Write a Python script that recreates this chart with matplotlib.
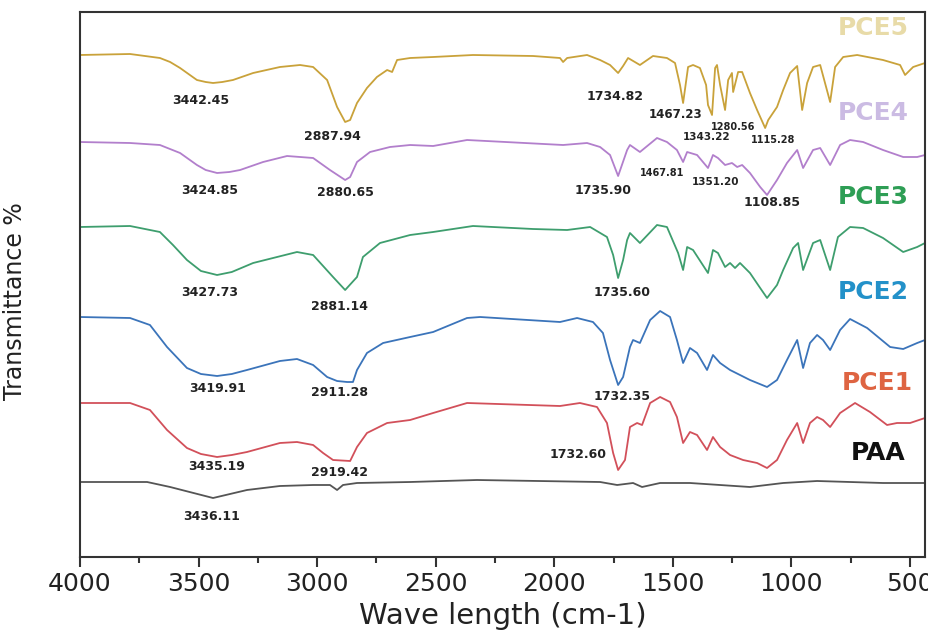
import numpy as np
import matplotlib.pyplot as plt
from matplotlib.ticker import MultipleLocator

# values (wavenumber cm-1, transmittance in arbitrary stacked units)
pce5_wn = [4000, 3789, 3663, 3620, 3578, 3507, 3470, 3439, 3400, 3355, 3270, 3157, 3072, 3017, 2958,
           2916, 2882, 2861, 2832, 2790, 2748, 2705, 2684, 2663, 2608, 2511, 2343, 2090, 1976, 1963,
           1946, 1862, 1807, 1765, 1731, 1710, 1689, 1639, 1584, 1525, 1491, 1470, 1457, 1436, 1415,
           1386, 1360, 1352, 1335, 1322, 1314, 1301, 1280, 1267, 1251, 1246, 1225, 1208, 1175, 1145,
           1111, 1098, 1061, 1035, 1006, 976, 955, 934, 909, 879, 837, 816, 782, 723, 614, 542, 521,
           487, 437]
pce5_t = [502, 503, 499, 495, 489, 477, 475, 474, 475, 477, 484, 490, 492, 490, 477,
          450, 435, 437, 454, 469, 480, 487, 485, 497, 499, 500, 502, 501, 499, 495,
          499, 502, 497, 492, 484, 491, 499, 492, 501, 499, 494, 472, 454, 490, 492,
          489, 472, 452, 442, 489, 492, 472, 447, 477, 484, 465, 485, 485, 464, 447,
          429, 437, 450, 467, 484, 491, 447, 474, 490, 492, 455, 490, 500, 502, 497, 492, 482,
          490, 494]

pce4_wn = [4000, 3789, 3663, 3578, 3507, 3470, 3422, 3370, 3325, 3228, 3127, 3017, 2946, 2882, 2861,
           2832, 2777, 2693, 2608, 2511, 2368, 1963, 1862, 1807, 1765, 1731, 1693, 1681, 1639, 1567,
           1525, 1483, 1457, 1440, 1398, 1352, 1331, 1310, 1280, 1251, 1229, 1208, 1175, 1132, 1103,
           1061, 1019, 976, 951, 909, 879, 837, 795, 753, 698, 614, 529, 470, 437]
pce4_t = [415, 414, 412, 404, 392, 387, 384, 385, 387, 395, 401, 399, 387, 377, 380,
          395, 405, 410, 412, 411, 417, 412, 414, 410, 402, 381, 407, 412, 405, 419,
          415, 407, 395, 405, 402, 389, 402, 399, 392, 394, 390, 392, 384, 370, 362,
          377, 394, 407, 389, 407, 409, 392, 412, 417, 415, 407, 400, 400, 402]

pce3_wn = [4000, 3789, 3663, 3608, 3549, 3490, 3422, 3360, 3270, 3085, 3017, 2933, 2882, 2832, 2807,
           2735, 2608, 2511, 2343, 2090, 1946, 1849, 1778, 1752, 1731, 1710, 1693, 1681, 1639, 1567,
           1525, 1478, 1457, 1440, 1415, 1352, 1331, 1310, 1280, 1259, 1238, 1217, 1175, 1132, 1103,
           1061, 1035, 993, 972, 951, 909, 879, 837, 804, 753, 698, 614, 529, 470, 437]
pce3_t = [330, 331, 325, 312, 297, 286, 282, 285, 294, 305, 302, 280, 267, 280, 300,
          314, 322, 325, 331, 328, 327, 330, 320, 302, 279, 297, 317, 324, 314, 332,
          330, 304, 287, 310, 307, 284, 307, 304, 290, 294, 289, 294, 284, 269, 259,
          272, 287, 309, 314, 287, 314, 317, 287, 320, 330, 329, 319, 305, 310, 314]

pce2_wn = [4000, 3789, 3705, 3633, 3549, 3490, 3422, 3360, 3296, 3157, 3085, 3017, 2958, 2916, 2874,
           2849, 2832, 2790, 2722, 2608, 2511, 2368, 2313, 1976, 1904, 1837, 1795, 1765, 1731, 1710,
           1681, 1668, 1639, 1596, 1554, 1512, 1483, 1457, 1428, 1398, 1356, 1331, 1301, 1259, 1217,
           1175, 1103, 1061, 1019, 976, 951, 922, 892, 867, 837, 795, 753, 681, 584, 529, 470, 437]
pce2_t = [240, 239, 232, 210, 189, 183, 181, 183, 187, 196, 198, 192, 180, 176, 175,
          175, 187, 204, 214, 220, 225, 239, 240, 235, 239, 235, 224, 197, 172, 180,
          210, 217, 214, 237, 246, 240, 217, 194, 209, 204, 187, 202, 194, 187, 182,
          177, 170, 177, 197, 217, 189, 214, 222, 217, 207, 227, 238, 229, 210, 208, 214, 217]

pce1_wn = [4000, 3789, 3705, 3633, 3549, 3490, 3422, 3360, 3296, 3157, 3085, 3017, 2975, 2933, 2861,
           2832, 2790, 2705, 2608, 2511, 2368, 1976, 1892, 1820, 1778, 1752, 1731, 1702, 1681, 1651,
           1630, 1596, 1554, 1512, 1483, 1457, 1428, 1398, 1356, 1331, 1301, 1259, 1204, 1145, 1103,
           1061, 1019, 976, 951, 922, 892, 867, 837, 795, 732, 669, 597, 555, 500, 437]
pce1_t = [154, 154, 147, 127, 109, 103, 100, 102, 105, 114, 115, 112, 104, 97, 96,
          110, 124, 134, 137, 144, 154, 151, 154, 150, 134, 104, 87, 97, 130, 134,
          132, 154, 160, 155, 140, 114, 125, 122, 107, 120, 110, 102, 97, 94, 89,
          97, 117, 134, 114, 134, 140, 137, 130, 144, 154, 145, 132, 134, 134, 139]

paa_wn = [4000, 3717, 3620, 3439, 3296, 3157, 3017, 2946, 2916, 2891, 2832, 2608, 2326, 1807, 1735,
          1668, 1630, 1554, 1428, 1175, 1035, 892, 614, 437]
paa_t = [75, 75, 70, 59, 67, 71, 72, 72, 67, 72, 74, 75, 77, 75, 72,
         74, 70, 74, 74, 70, 74, 76, 74, 74]

# peak labels: text, wavenumber, y, size
peak_text = ['3442.45', '2887.94', '3424.85', '2880.65', '3427.73', '2881.14', '3419.91', '2911.28',
             '3435.19', '2919.42', '3436.11', '1734.82', '1467.23', '1343.22', '1280.56', '1115.28',
             '1735.90', '1467.81', '1351.20', '1108.85', '1735.60', '1732.35', '1732.60']
peak_x = [3490, 2937, 3452, 2882, 3452, 2904, 3418, 2904, 3422, 2904, 3443, 1744, 1491, 1356, 1246,
          1078, 1795, 1546, 1322, 1082, 1714, 1714, 1900]
peak_y = [456, 421, 366, 365, 265, 251, 168, 164, 90, 85, 40, 461, 443, 420, 430, 417, 366, 384,
          375, 355, 265, 161, 103]
peak_size = [9, 9, 9, 9, 9, 9, 9, 9, 9, 9, 9, 9, 8.5, 7.5, 7, 7, 9, 7, 7.5, 9, 9, 9, 9]

names = ['PCE5', 'PCE4', 'PCE3', 'PCE2', 'PCE1', 'PAA']
name_x = [656, 656, 656, 656, 639, 635]
name_y = [529, 444, 360, 265, 174, 104]
name_colors = ['#E8DBA8', '#CBBBE3', '#2E9E55', '#2391C9', '#DE6442', '#111111']

series = [(pce5_wn, pce5_t, '#C9A23A'), (pce4_wn, pce4_t, '#B27FCC'), (pce3_wn, pce3_t, '#3E9E6E'),
          (pce2_wn, pce2_t, '#3B74BA'), (pce1_wn, pce1_t, '#D2505A'), (paa_wn, paa_t, '#555555')]

fig = plt.figure(figsize=(9.29, 6.4), dpi=100)
ax = fig.add_axes([80 / 929, 1 - 557 / 640, 845 / 929, 545 / 640])

for wn, t, c in series:
    ax.plot(wn, t, color=c, lw=1.3, solid_joinstyle='round')

for s, x, y, fs in zip(peak_text, peak_x, peak_y, peak_size):
    ax.text(x, y, s, fontsize=fs, fontweight='bold', color='#222222', ha='center', va='center')

for s, x, y, c in zip(names, name_x, name_y, name_colors):
    ax.text(x, y, s, fontsize=18, fontweight='bold', color=c, ha='center', va='center')

ax.set_xlim(4000, 437)
ax.set_ylim(0, 545)
ax.set_yticks([])
ax.xaxis.set_major_locator(MultipleLocator(500))
ax.xaxis.set_minor_locator(MultipleLocator(250))
ax.tick_params(axis='x', which='major', direction='out', length=7, width=1.5, labelsize=18, pad=4,
               colors='#333333', labelcolor='#222222')
ax.tick_params(axis='x', which='minor', direction='out', length=4, width=1.5, colors='#333333')
for sp in ax.spines.values():
    sp.set_linewidth(1.5)
    sp.set_color('#333333')

ax.set_xlabel('Wave length (cm-1)', fontsize=21, color='#222222', labelpad=4)
ax.set_ylabel('Transmittance %', fontsize=17, color='#222222')
ax.yaxis.set_label_coords(-0.063, 0.47)

fig.savefig('out.png', dpi=100)
